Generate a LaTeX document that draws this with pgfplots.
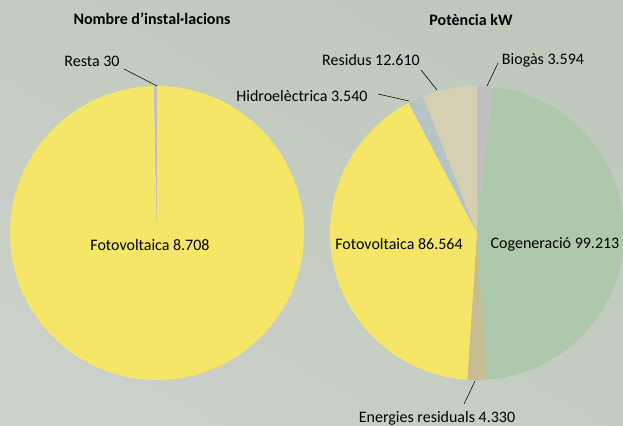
\documentclass[border=0pt]{standalone}
\usepackage{pgfplots}
\pgfplotsset{compat=1.18}
\usepackage{xfp}
\usepackage{fontspec}
\setmainfont{Carlito}
\definecolor{bgA}{HTML}{CBD0C8}
\definecolor{bgB}{HTML}{BEC9BC}
\definecolor{cYel}{HTML}{F6E667}
\definecolor{cGrn}{HTML}{AEC8AB}
\definecolor{cBei}{HTML}{D6D0B3}
\definecolor{cGry}{HTML}{C0C0C0}
\definecolor{cBlu}{HTML}{B5C4C4}
\definecolor{cTan}{HTML}{C6BD93}
\newcommand\R{110.25pt}
% draw a pie from value/colour list, clockwise from 12 o'clock
\newcommand\pie[2]{%
  \foreach \v/\c [remember=\e as \s (initially 90)] in {#2} {%
    \edef\e{\fpeval{round(\s-(\v/#1)*360,4)}}%
    \edef\tmp{\noexpand\fill[\c] (axis cs:0,0) -- (axis cs:{cos(\s)},{sin(\s)}) arc[start angle=\s,end angle=\e,radius=\R] -- cycle;}%
    \tmp
  }%
}
\begin{document}
\begin{tikzpicture}[x=0.75pt,y=0.75pt,font=\fontsize{12}{14}\selectfont]
\useasboundingbox (0,0) rectangle (623,425);
\shade[top color=bgB, bottom color=bgA, shading angle=-30] (0,0) rectangle (623,425);
% left pie
\begin{axis}[at={(117.75pt,144pt)}, anchor=center, scale only axis, x=110.25pt, y=110.25pt,
  xmin=-1, xmax=1, ymin=-1, ymax=1, hide axis, clip=false]
  \pie{8738}{8708/cYel, 30/cGry}
  \addplot[draw=none] coordinates {(0,0)};
\end{axis}
% right pie
\begin{axis}[at={(357.75pt,144pt)}, anchor=center, scale only axis, x=110.25pt, y=110.25pt,
  xmin=-1, xmax=1, ymin=-1, ymax=1, hide axis, clip=false]
  \pie{209851}{3594/cGry, 99213/cGrn, 4330/cTan, 86564/cYel, 3540/cBlu, 12610/cBei}
  \addplot[draw=none] coordinates {(0,0)};
\end{axis}
% titles
\node[font=\fontsize{12}{14}\selectfont\bfseries] at (152,406) {Nombre d’instal·lacions};
\node[font=\fontsize{12}{14}\selectfont\bfseries] at (471,405) {Potència kW};
% labels
\node at (150,180) {Fotovoltaica 8.708};
\node at (92,364) {Resta 30};
\draw (124,356) -- (157,339);
\node at (555,181) {Cogeneració 99.213};
\node at (399,181) {Fotovoltaica 86.564};
\node at (302,329) {Hidroelèctrica 3.540};
\draw (378,331) -- (409,324);
\node at (371,365) {Residus 12.610};
\draw (421,355) -- (437,335);
\node at (543,365) {Biogàs 3.594};
\draw (498,362) -- (487,339);
\node at (437,7) {Energies residuals 4.330};
\draw (475,44) -- (464,21);
\end{tikzpicture}
\end{document}
